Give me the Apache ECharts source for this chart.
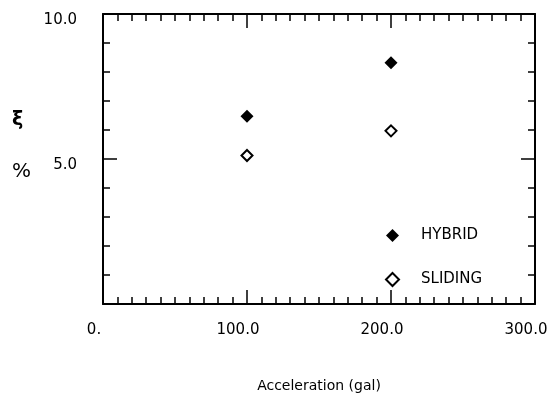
<!DOCTYPE html>
<html>
<head>
<meta charset="utf-8">
<script src="https://cdn.jsdelivr.net/npm/echarts@6/dist/echarts.min.js"></script>
<style>
  html, body { margin: 0; padding: 0; background: #fff; }
  #chart { width: 552px; height: 402px; }
</style>
</head>
<body>
<div id="chart"></div>
<script>
// acceleration (gal)
const accel = [100, 200];
// damping ratio xi (%)
const hybrid = [6.47, 8.32];
const sliding = [5.12, 5.97];

const xTicks = [0, 100, 200, 300];
const yTicks = [0, 5, 10];

const font = "DejaVu Sans";
const ink = "#000";

let myChart = echarts.init(document.getElementById("chart"));

const xBase = {
  type: "value",
  min: xTicks[0],
  max: xTicks[xTicks.length - 1],
  interval: 100,
  axisLine: { show: true, onZero: false, lineStyle: { color: ink, width: 2 } },
  axisTick: { show: true, inside: true, length: 14, lineStyle: { color: ink, width: 1.5 } },
  minorTick: { show: true, splitNumber: 10, length: 7, lineStyle: { color: ink, width: 1.5 } },
  splitLine: { show: false },
  minorSplitLine: { show: false }
};
const yBase = {
  type: "value",
  min: yTicks[0],
  max: yTicks[yTicks.length - 1],
  interval: 5,
  axisLine: { show: true, onZero: false, lineStyle: { color: ink, width: 2 } },
  axisTick: { show: true, inside: true, length: 14, lineStyle: { color: ink, width: 1.5 } },
  minorTick: { show: true, splitNumber: 5, length: 7, lineStyle: { color: ink, width: 1.5 } },
  splitLine: { show: false },
  minorSplitLine: { show: false }
};

myChart.setOption({
  backgroundColor: "#fff",
  animation: false,
  grid: { left: 103, right: 17, top: 14, bottom: 98 },
  xAxis: [
    Object.assign({}, xBase, {
      position: "bottom",
      name: "Acceleration (gal)",
      nameLocation: "middle",
      nameGap: 75,
      nameTextStyle: { fontFamily: font, fontSize: 14, color: ink },
      axisLabel: {
        margin: 19,
        fontFamily: font,
        fontSize: 15,
        color: ink,
        padding: [0, 18, 0, 0],
        formatter: v => (v === 0 ? "0." : v.toFixed(1))
      }
    }),
    Object.assign({}, xBase, { position: "top", axisLabel: { show: false } })
  ],
  yAxis: [
    Object.assign({}, yBase, {
      position: "left",
      axisLabel: {
        margin: 26,
        fontFamily: font,
        fontSize: 15,
        color: ink,
        verticalAlign: "top",
        lineHeight: 12,
        formatter: v => (v === 0 ? "" : v.toFixed(1))
      }
    }),
    Object.assign({}, yBase, { position: "right", axisLabel: { show: false } })
  ],
  legend: {
    orient: "vertical",
    left: 385,
    top: 228,
    padding: 0,
    itemWidth: 13,
    itemHeight: 13,
    itemGap: 29,
    textStyle: { fontFamily: font, fontSize: 15, color: ink, padding: [0, 0, 0, 17] },
    data: ["HYBRID", "SLIDING"]
  },
  graphic: [
    { type: "text", left: 12, top: 111, style: { text: "ξ", font: "bold 19px " + font, fill: ink } },
    { type: "text", left: 12, top: 162, style: { text: "%", font: "20px " + font, fill: ink } }
  ],
  series: [
    {
      name: "HYBRID",
      type: "scatter",
      symbol: "diamond",
      symbolSize: 13,
      itemStyle: { color: ink, opacity: 1 },
      data: accel.map((a, i) => [a, hybrid[i]])
    },
    {
      name: "SLIDING",
      type: "scatter",
      symbol: "diamond",
      symbolSize: 11,
      itemStyle: { color: "#fff", borderColor: ink, borderWidth: 2, opacity: 1 },
      data: accel.map((a, i) => [a, sliding[i]])
    }
  ]
});
</script>
</body>
</html>
